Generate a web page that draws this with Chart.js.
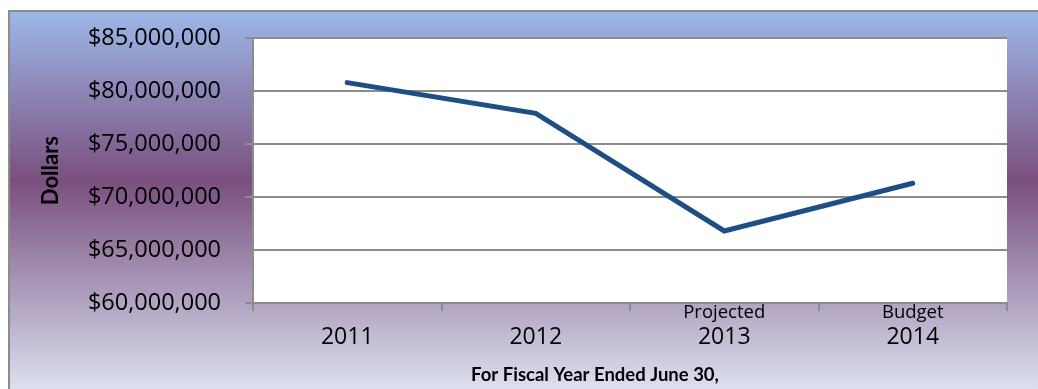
<!DOCTYPE html>
<html>
<head>
<meta charset="utf-8">
<script src="https://cdn.jsdelivr.net/npm/chart.js@4"></script>
<style>
  html, body { margin: 0; padding: 0; background: #fff; }
  #wrap { width: 1038px; height: 389px; position: relative; }
</style>
</head>
<body>
<div id="wrap"><canvas id="revenueChart" width="1038" height="389"></canvas></div>
<script>
const years = ["2011", "2012", "2013", "2014"];
const yearNotes = ["", "", "Projected", "Budget"];
const dollars = [80800000, 77900000, 66800000, 71300000];
const yTicks = [60000000, 65000000, 70000000, 75000000, 80000000, 85000000];

const FONT = "'Open Sans', 'Noto Sans', sans-serif";
const BOLD_FONT = "Lato, 'Open Sans', sans-serif";

// frame background: blue -> purple -> pale gradient with a grey border
const frameBg = {
  id: "frameBg",
  beforeDraw(chart) {
    const c = chart.ctx;
    const g = c.createLinearGradient(0, 11, 0, 389);
    g.addColorStop(0, "#9db8e8");
    g.addColorStop(0.45, "#7a4f7e");
    g.addColorStop(0.74, "#ab9bbb");
    g.addColorStop(1, "#dde0ef");
    c.save();
    c.fillStyle = g;
    c.fillRect(9, 11, chart.width, chart.height);
    c.strokeStyle = "#8c8c8c";
    c.lineWidth = 2;
    c.strokeRect(9, 11, chart.width + 10, chart.height + 10);
    const a = chart.chartArea;
    c.fillStyle = "#fff";
    c.fillRect(a.left, a.top, a.right - a.left, a.bottom - a.top);
    c.restore();
  }
};

// small captions above some year labels, plus the x axis title
const xCaptions = {
  id: "xCaptions",
  afterDraw(chart) {
    const c = chart.ctx;
    const x = chart.scales.x;
    c.save();
    c.fillStyle = "#000";
    c.textAlign = "center";
    c.textBaseline = "middle";
    c.font = "18.5px " + FONT;
    yearNotes.forEach((note, i) => {
      if (note) c.fillText(note, x.getPixelForTick(i), 313);
    });
    c.font = "bold 18.5px " + BOLD_FONT;
    c.fillText("For Fiscal Year Ended June 30,", 595, 375);
    c.restore();
  }
};

new Chart(document.getElementById("revenueChart"), {
  type: "line",
  data: {
    labels: years,
    datasets: [{
      label: "Dollars",
      data: dollars,
      borderColor: "#1f4e85",
      borderWidth: 5,
      borderCapStyle: "round",
      borderJoinStyle: "miter",
      tension: 0,
      fill: false,
      pointRadius: 0
    }]
  },
  options: {
    responsive: false,
    animation: false,
    layout: { padding: { left: 34, top: 24, right: 31, bottom: 0 } },
    plugins: {
      legend: { display: false },
      tooltip: { enabled: false }
    },
    scales: {
      x: {
        offset: true,
        afterFit(scale) { scale.height = 86; },
        grid: {
          display: true,
          offset: true,
          drawOnChartArea: false,
          color: "#8c8c8c",
          lineWidth: 2,
          tickLength: 8
        },
        border: { color: "#8c8c8c", width: 2 },
        ticks: {
          color: "#000",
          font: { family: FONT, size: 23 },
          padding: 13,
          maxRotation: 0
        }
      },
      y: {
        min: 60000000,
        max: 85000000,
        afterFit(scale) { scale.width = 219; },
        afterBuildTicks(scale) { scale.ticks = yTicks.map(v => ({ value: v })); },
        grid: { color: "#8c8c8c", lineWidth: 2, tickLength: 8 },
        border: { color: "#8c8c8c", width: 2 },
        title: {
          display: true,
          text: "Dollars",
          color: "#000",
          font: { family: BOLD_FONT, size: 22, weight: "bold" },
          padding: { top: 4, bottom: 4 }
        },
        ticks: {
          color: "#000",
          font: { family: FONT, size: 23.5 },
          padding: 24,
          callback: v => "$" + Number(v).toLocaleString("en-US")
        }
      }
    }
  },
  plugins: [frameBg, xCaptions]
});
</script>
</body>
</html>
